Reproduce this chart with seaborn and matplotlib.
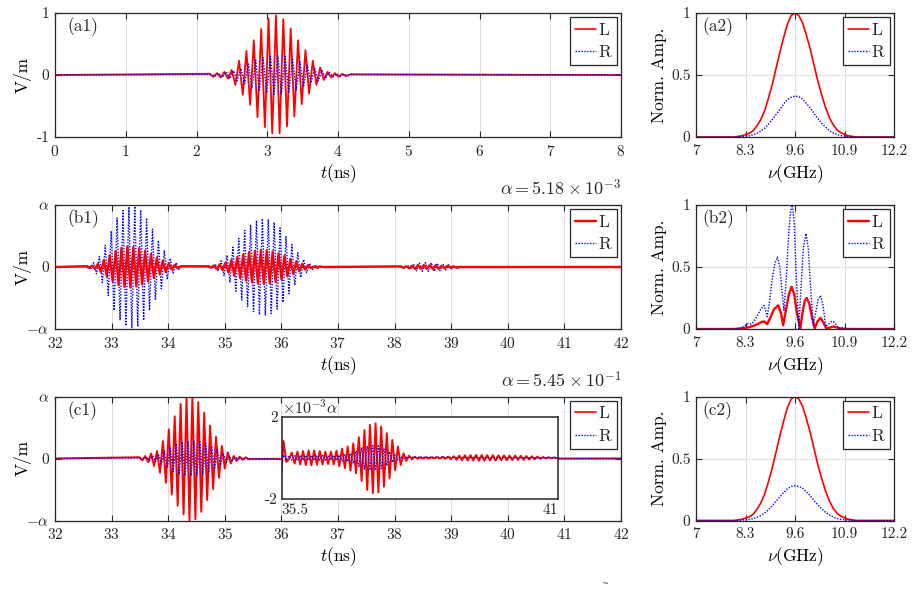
import matplotlib
matplotlib.use('Agg')
import matplotlib.pyplot as plt
import numpy as np
import seaborn as sns
from matplotlib.lines import Line2D

RED = '#ff0000'
BLUE = '#0000ff'
INK = '#262626'
DOT = (0, (1, 1.1))

# half cycle of the ~9.6 GHz carrier (ns), read from the peak spacing
HALF_PERIOD = 0.0521
INSET_HALF_PERIOD = 0.0555

# (a1) peak magnitude of each half cycle, first one positive
A1_T0 = 2.185
A1_RED = [0.02, 0.03, 0.03, 0.04, 0.05, 0.06, 0.08, 0.16, 0.23, 0.32, 0.39, 0.48, 0.56,
          0.68, 0.74, 0.84, 0.91, 0.94, 0.96, 0.94, 0.90, 0.83, 0.75, 0.67, 0.56, 0.47,
          0.40, 0.30, 0.23, 0.16, 0.12, 0.08, 0.05, 0.04, 0.03, 0.03, 0.02, 0.02, 0.01]
A1_BLUE = [0.01, 0.02, 0.03, 0.04, 0.05, 0.06, 0.07, 0.09, 0.11, 0.14, 0.18, 0.21, 0.24,
           0.26, 0.28, 0.29, 0.30, 0.31, 0.31, 0.30, 0.30, 0.29, 0.27, 0.25, 0.22, 0.19,
           0.16, 0.13, 0.11, 0.09, 0.07, 0.05, 0.04, 0.03, 0.02, 0.02, 0.01, 0.01, 0.01]

# (b1) three bursts, in units of alpha
B1_T0 = [32.55, 34.70, 38.10]
B1_BLUE = [
    [0.02, 0.04, 0.07, 0.11, 0.17, 0.25, 0.35, 0.46, 0.58, 0.70, 0.79, 0.86, 0.91, 0.95,
     0.97, 0.98, 0.98, 0.96, 0.92, 0.86, 0.79, 0.70, 0.61, 0.52, 0.43, 0.35, 0.27, 0.20,
     0.14, 0.10, 0.07, 0.04, 0.02],
    [0.02, 0.03, 0.05, 0.07, 0.10, 0.14, 0.19, 0.25, 0.32, 0.39, 0.46, 0.53, 0.59, 0.64,
     0.68, 0.72, 0.75, 0.77, 0.78, 0.78, 0.77, 0.75, 0.72, 0.68, 0.63, 0.57, 0.50, 0.43,
     0.36, 0.29, 0.23, 0.17, 0.12, 0.09, 0.06, 0.04, 0.03, 0.02, 0.01, 0.01],
    [0.01, 0.02, 0.03, 0.04, 0.05, 0.06, 0.06, 0.07, 0.07, 0.07, 0.07, 0.07, 0.06, 0.06,
     0.05, 0.05, 0.04, 0.03, 0.02, 0.02, 0.01, 0.01],
]
B1_RED = [
    [0.01, 0.01, 0.02, 0.03, 0.05, 0.08, 0.11, 0.15, 0.19, 0.23, 0.26, 0.29, 0.31, 0.32,
     0.33, 0.33, 0.32, 0.31, 0.30, 0.28, 0.26, 0.23, 0.21, 0.18, 0.15, 0.12, 0.10, 0.08,
     0.06, 0.04, 0.03, 0.02, 0.01],
    [0.01, 0.01, 0.02, 0.03, 0.04, 0.05, 0.07, 0.09, 0.11, 0.14, 0.16, 0.18, 0.20, 0.22,
     0.24, 0.25, 0.26, 0.27, 0.27, 0.27, 0.27, 0.26, 0.25, 0.24, 0.22, 0.20, 0.18, 0.15,
     0.13, 0.11, 0.09, 0.07, 0.05, 0.04, 0.03, 0.02, 0.01, 0.01, 0.01, 0.00],
    [0.01, 0.01, 0.01, 0.02, 0.02, 0.03, 0.03, 0.03, 0.03, 0.03, 0.03, 0.03, 0.03, 0.03,
     0.02, 0.02, 0.02, 0.01, 0.01, 0.01, 0.00, 0.00],
]

# (c1) main burst, in units of alpha
C1_T0 = 33.49
C1_RED = [0.02, 0.03, 0.04, 0.06, 0.08, 0.12, 0.12, 0.23, 0.28, 0.39, 0.47, 0.58, 0.68,
          0.76, 0.88, 0.90, 0.98, 1.00, 1.00, 0.98, 0.91, 0.86, 0.74, 0.67, 0.53, 0.49,
          0.35, 0.31, 0.20, 0.16, 0.10, 0.08, 0.04, 0.04, 0.03, 0.02, 0.02, 0.01]
C1_BLUE = [0.01, 0.01, 0.02, 0.03, 0.04, 0.05, 0.07, 0.09, 0.12, 0.15, 0.18, 0.21, 0.24,
           0.26, 0.27, 0.28, 0.28, 0.28, 0.28, 0.28, 0.27, 0.26, 0.25, 0.23, 0.20, 0.17,
           0.14, 0.11, 0.08, 0.06, 0.04, 0.03, 0.02, 0.01, 0.01, 0.01, 0.00, 0.00]

# (c1) inset, signed half-cycle peaks in units of 1e-3 alpha
INSET_T0 = 35.48
INSET_RED = [-1.32, 0.82, -0.20, -0.05, 0.25, -0.28, 0.30, -0.32, 0.33, -0.35, 0.36, -0.36,
             0.36, -0.34, 0.33, -0.32, 0.30, -0.30, 0.30, -0.32, 0.35, -0.40, 0.45, -0.50,
             0.55, -0.62, 0.70, -0.75, 1.00, -1.12, 1.35, -1.56, 1.60, -1.72, 1.68, -1.68,
             1.52, -1.40, 1.20, -1.00, 0.87, -0.60, 0.55, -0.35, 0.22, -0.15, 0.10, -0.07,
             0.05, -0.04, 0.03, -0.03, 0.03, -0.03, 0.03, -0.03, 0.04, -0.04, 0.05, -0.05,
             0.06, -0.07, 0.08, -0.10, 0.11, -0.12, 0.12, -0.13, 0.13, -0.13, 0.14, -0.14,
             0.14, -0.14, 0.13, -0.13, 0.13, -0.13, 0.12, -0.12, 0.12, -0.12, 0.11, -0.11,
             0.11, -0.10, 0.10, -0.10, 0.09, -0.09, 0.08, -0.07, 0.06, -0.05, 0.04, -0.03,
             0.03, -0.02, 0.02, -0.02]
INSET_BLUE = [-0.20, 0.15, -0.12, 0.10, -0.10, 0.11, -0.12, 0.12, -0.12, 0.12, -0.12, 0.12,
              -0.12, 0.12, -0.11, 0.11, -0.11, 0.11, -0.11, 0.12, -0.13, 0.14, -0.15, 0.15,
              -0.18, 0.22, -0.28, 0.34, -0.42, 0.50, -0.55, 0.58, -0.60, 0.60, -0.60, 0.58,
              -0.52, 0.45, -0.38, 0.30, -0.22, 0.15, -0.10, 0.06, -0.04, 0.03]

# spectra
NU = [7.0, 7.5, 8.0, 8.2, 8.4, 8.5, 8.6, 8.7, 8.8, 8.9, 9.0, 9.1, 9.2, 9.3, 9.4, 9.5, 9.6,
      9.7, 9.8, 9.9, 10.0, 10.1, 10.2, 10.3, 10.4, 10.5, 10.6, 10.7, 10.8, 11.0, 11.2,
      11.7, 12.2]
A2_RED = [0, 0, 0.0, 0.01, 0.03, 0.05, 0.09, 0.14, 0.21, 0.31, 0.42, 0.55, 0.68, 0.80,
          0.91, 0.98, 1.0, 0.98, 0.92, 0.82, 0.71, 0.58, 0.45, 0.34, 0.24, 0.16, 0.10,
          0.06, 0.035, 0.01, 0.0, 0, 0]
A2_BLUE = [0, 0, 0, 0.003, 0.01, 0.018, 0.03, 0.047, 0.07, 0.10, 0.14, 0.18, 0.22, 0.265,
           0.30, 0.32, 0.33, 0.325, 0.305, 0.27, 0.235, 0.19, 0.15, 0.11, 0.08, 0.053,
           0.033, 0.02, 0.012, 0.003, 0, 0, 0]
C2_RED = [0, 0, 0.0, 0.01, 0.03, 0.05, 0.09, 0.14, 0.21, 0.31, 0.42, 0.55, 0.68, 0.80,
          0.91, 0.98, 1.0, 0.98, 0.92, 0.82, 0.71, 0.58, 0.45, 0.34, 0.24, 0.16, 0.10,
          0.06, 0.035, 0.01, 0.0, 0, 0]
C2_BLUE = [0, 0, 0, 0.003, 0.009, 0.015, 0.025, 0.04, 0.06, 0.085, 0.12, 0.155, 0.19,
           0.225, 0.255, 0.275, 0.28, 0.275, 0.26, 0.23, 0.20, 0.16, 0.125, 0.095, 0.067,
           0.045, 0.028, 0.017, 0.01, 0.003, 0, 0, 0]

B2_NU_BLUE = [7.0, 8.0, 8.2, 8.3, 8.37, 8.45, 8.52, 8.6, 8.7, 8.79, 8.87, 8.93, 9.0, 9.07,
              9.14, 9.2, 9.26, 9.31, 9.37, 9.43, 9.48, 9.53, 9.58, 9.63, 9.7, 9.76, 9.82,
              9.89, 9.95, 10.01, 10.08, 10.14, 10.21, 10.27, 10.33, 10.41, 10.48, 10.55,
              10.61, 10.68, 10.74, 10.82, 10.89, 11.0, 11.2, 12.2]
B2_BLUE = [0, 0, 0.01, 0.03, 0.045, 0.04, 0.06, 0.10, 0.16, 0.19, 0.10, 0.22, 0.40, 0.53,
           0.58, 0.50, 0.30, 0.15, 0.40, 0.75, 0.94, 1.0, 0.85, 0.45, 0.005, 0.35, 0.66,
           0.77, 0.65, 0.33, 0.03, 0.13, 0.24, 0.27, 0.20, 0.02, 0.04, 0.06, 0.06, 0.035,
           0.005, 0.01, 0.01, 0.003, 0, 0]
B2_NU_RED = [7.0, 8.0, 8.2, 8.4, 8.55, 8.65, 8.75, 8.8, 8.87, 8.95, 9.05, 9.16, 9.23, 9.29,
             9.36, 9.44, 9.51, 9.58, 9.65, 9.74, 9.8, 9.86, 9.91, 9.98, 10.05, 10.12, 10.19,
             10.27, 10.35, 10.42, 10.5, 10.61, 10.72, 10.85, 12.2]
B2_RED = [0, 0, 0.005, 0.015, 0.03, 0.045, 0.06, 0.06, 0.04, 0.09, 0.16, 0.19, 0.13, 0.03,
          0.15, 0.28, 0.34, 0.28, 0.13, 0.005, 0.14, 0.23, 0.25, 0.20, 0.09, 0.005, 0.06,
          0.09, 0.05, 0.005, 0.01, 0.02, 0.01, 0.0, 0]

NU_TICKS = [7, 8.3, 9.6, 10.9, 12.2]
NU_TICK_LABELS = ['7', '8.3', '9.6', '10.9', '12.2']


def zigzag(t0, amps, step=HALF_PERIOD):
    amps = np.asarray(amps, dtype=float)
    sign = np.where(np.arange(len(amps)) % 2 == 0, 1.0, -1.0)
    return t0 + step * np.arange(len(amps)), amps * sign


def trace(starts, bursts, x0, x1, shift=0.0):
    ts, ys = [[x0]], [[0.0]]
    for t0, amps in zip(starts, bursts):
        t, y = zigzag(t0 + shift, amps)
        ts.append(t)
        ys.append(y)
    ts.append([x1])
    ys.append([0.0])
    return np.concatenate(ts), np.concatenate(ys)


def draw(ax, x, y, color, lw, ls='-'):
    sns.lineplot(x=np.asarray(x, float), y=np.asarray(y, float), ax=ax, color=color,
                 linewidth=lw, linestyle=ls, sort=False, estimator=None, legend=False)


def legend(ax, lw_red=1.2):
    handles = [Line2D([], [], color=RED, lw=lw_red),
               Line2D([], [], color=BLUE, lw=1.0, ls=DOT)]
    leg = ax.legend(handles, ['L', 'R'], loc='upper right', fontsize=12.5,
                    handlelength=1.2, handletextpad=0.15, borderpad=0.3,
                    labelspacing=0.4, borderaxespad=0.25, fancybox=False,
                    framealpha=1, edgecolor=INK)
    leg.get_frame().set_linewidth(0.9)


def style_time(ax, xlim, ylabels):
    ax.set_xlim(*xlim)
    ax.set_ylim(-1, 1)
    ax.set_xticks(np.arange(xlim[0], xlim[1] + 1))
    ax.set_yticks([-1, 0, 1])
    ax.set_yticklabels(ylabels)
    ax.grid(True, color='#dedede', lw=0.8)
    ax.set_axisbelow(True)
    ax.set_xlabel(r'$t$(ns)')
    ax.set_ylabel('V/m')
    ax.xaxis.set_label_coords(0.5, -0.2)
    ax.yaxis.set_label_coords(-0.041, 0.5)


def style_spec(ax):
    ax.set_xlim(7, 12.2)
    ax.set_ylim(0, 1)
    ax.set_xticks(NU_TICKS)
    ax.set_xticklabels(NU_TICK_LABELS)
    ax.set_yticks([0, 0.5, 1])
    ax.set_yticklabels(['0', '0.5', '1'])
    ax.grid(True, color='#dedede', lw=0.8)
    ax.set_axisbelow(True)
    ax.set_xlabel(r'$\nu$(GHz)')
    ax.set_ylabel('Norm. Amp.')
    ax.xaxis.set_label_coords(0.5, -0.2)
    ax.yaxis.set_label_coords(-0.146, 0.5)


def tag(ax, text, x=0.022):
    ax.text(x, 0.965, text, transform=ax.transAxes, ha='left', va='top', fontsize=12.5)


sns.set_theme(style='ticks')
plt.rcParams.update({
    'font.family': ['cmr10', 'DejaVu Serif'],
    'mathtext.fontset': 'cm',
    'axes.unicode_minus': False,
    'axes.formatter.use_mathtext': True,
    'axes.edgecolor': INK,
    'axes.linewidth': 0.9,
    'axes.labelsize': 12.5,
    'axes.labelcolor': 'black',
    'xtick.direction': 'in',
    'ytick.direction': 'in',
    'xtick.top': True,
    'ytick.right': True,
    'xtick.major.size': 4,
    'ytick.major.size': 4,
    'xtick.major.width': 0.8,
    'ytick.major.width': 0.8,
    'xtick.major.pad': 5,
    'ytick.major.pad': 4,
    'xtick.color': INK,
    'ytick.color': INK,
    'xtick.labelsize': 11,
    'ytick.labelsize': 11,
})

fig = plt.figure(figsize=(9.14, 5.97), dpi=100)
L, WL = 55 / 914, 566 / 914
R, WR = 696 / 914, 198 / 914
H = 124 / 597
rows = [1 - 137 / 597, 1 - 329 / 597, 1 - 520.5 / 597]

ax_a1 = fig.add_axes([L, rows[0], WL, H])
ax_a2 = fig.add_axes([R, rows[0], WR, H])
ax_b1 = fig.add_axes([L, rows[1], WL, H])
ax_b2 = fig.add_axes([R, rows[1], WR, H])
ax_c1 = fig.add_axes([L, rows[2], WL, H])
ax_c2 = fig.add_axes([R, rows[2], WR, H])

# (a1)
t, y = trace([A1_T0], [A1_RED], 0, 8)
draw(ax_a1, t, y, RED, 1.3)
t, y = trace([A1_T0], [A1_BLUE], 0, 8, shift=HALF_PERIOD / 2)
draw(ax_a1, t, y, BLUE, 1.0, DOT)
style_time(ax_a1, (0, 8), ['-1', '0', '1'])
tag(ax_a1, '(a1)')
legend(ax_a1)

# (b1)
t, y = trace(B1_T0, B1_BLUE, 32, 42, shift=HALF_PERIOD / 2)
draw(ax_b1, t, y, BLUE, 1.0, DOT)
t, y = trace(B1_T0, B1_RED, 32, 42)
draw(ax_b1, t, y, RED, 1.7)
style_time(ax_b1, (32, 42), [r'$-\alpha$', '0', r'$\alpha$'])
tag(ax_b1, '(b1)')
legend(ax_b1, 1.7)
ax_b1.text(1.0, 1.075, r'$\alpha = 5.18\times10^{-3}$', transform=ax_b1.transAxes,
           ha='right', va='baseline', fontsize=13)

# (c1)
t, y = trace([C1_T0], [C1_RED], 32, 42)
draw(ax_c1, t, y, RED, 1.4)
t, y = trace([C1_T0], [C1_BLUE], 32, 42, shift=HALF_PERIOD / 2)
draw(ax_c1, t, y, BLUE, 1.0, DOT)
style_time(ax_c1, (32, 42), [r'$-\alpha$', '0', r'$\alpha$'])
tag(ax_c1, '(c1)')
legend(ax_c1)
ax_c1.text(1.0, 1.075, r'$\alpha = 5.45\times10^{-1}$', transform=ax_c1.transAxes,
           ha='right', va='baseline', fontsize=13)

# inset of (c1)
ax_in = fig.add_axes([281.7 / 914, 1 - 499 / 597, 276.6 / 914, 82.3 / 597])
ax_in.set_zorder(ax_c1.get_zorder() + 1)
ax_in.set_facecolor('white')
t_in = INSET_T0 + INSET_HALF_PERIOD * np.arange(len(INSET_RED))
draw(ax_in, np.append(t_in, 41.2), np.append(INSET_RED, 0.0), RED, 1.4)
t_in = INSET_T0 + INSET_HALF_PERIOD * np.arange(len(INSET_BLUE))
draw(ax_in, np.append(t_in, 41.2), np.append(INSET_BLUE, 0.0), BLUE, 1.0, DOT)
ax_in.set_xlim(35.5, 41)
ax_in.set_ylim(-2, 2)
ax_in.set_xticks([35.5, 41])
ax_in.set_xticklabels(['35.5', '41'])
ax_in.set_yticks([-2, 2])
ax_in.set_yticklabels(['-2', '2'])
for lab, ha in zip(ax_in.get_xticklabels(), ['left', 'right']):
    lab.set_ha(ha)
ax_in.tick_params(labelsize=11, length=0, pad=3)
for s in ax_in.spines.values():
    s.set_linewidth(1.1)
ax_in.set_xlabel('')
ax_in.set_ylabel('')
ax_in.text(0.0, 1.0, r'$\times10^{-3}\alpha$', transform=ax_in.transAxes,
           ha='left', va='bottom', fontsize=11.5, color=INK)

# spectra
draw(ax_a2, NU, A2_RED, RED, 1.2)
draw(ax_a2, NU, A2_BLUE, BLUE, 1.0, DOT)
style_spec(ax_a2)
tag(ax_a2, '(a2)', 0.03)
legend(ax_a2)

draw(ax_b2, B2_NU_RED, B2_RED, RED, 1.7)
draw(ax_b2, B2_NU_BLUE, B2_BLUE, BLUE, 1.0, DOT)
style_spec(ax_b2)
tag(ax_b2, '(b2)', 0.03)
legend(ax_b2, 1.7)

draw(ax_c2, NU, C2_RED, RED, 1.2)
draw(ax_c2, NU, C2_BLUE, BLUE, 1.0, DOT)
style_spec(ax_c2)
tag(ax_c2, '(c2)', 0.03)
legend(ax_c2)

fig.text(601 / 914, 1 - 586 / 597, '~', fontsize=6, family='DejaVu Sans', color='#444444')

fig.savefig('out.png', dpi=100)
